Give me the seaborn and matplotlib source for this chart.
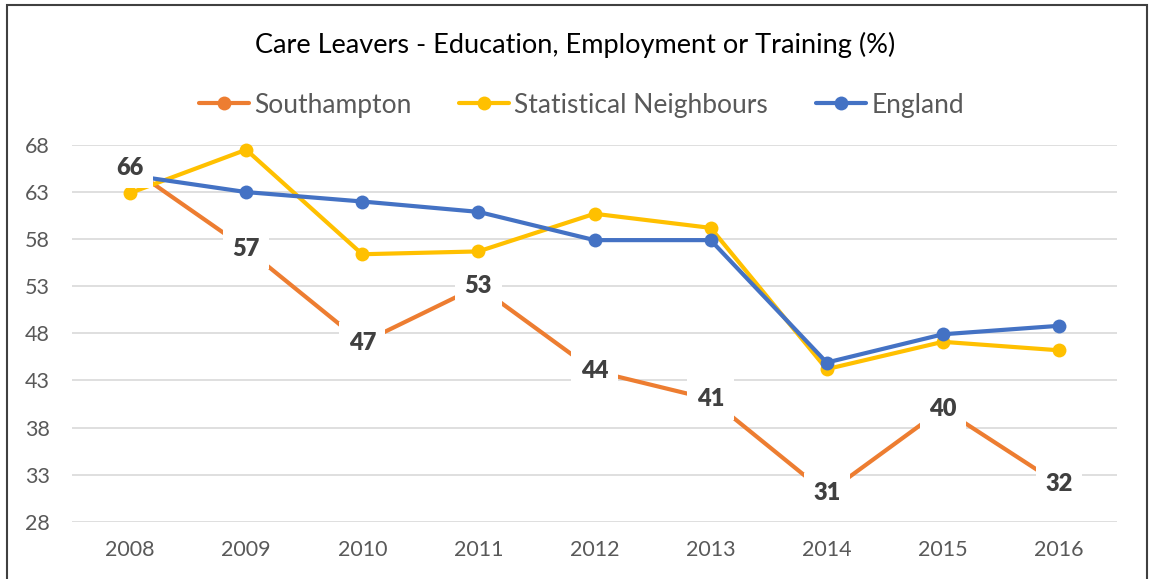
import matplotlib
matplotlib.use("Agg")
import matplotlib.pyplot as plt
import seaborn as sns
import pandas as pd
from matplotlib.patches import Rectangle
from matplotlib.lines import Line2D

years = ["2008", "2009", "2010", "2011", "2012", "2013", "2014", "2015", "2016"]
southampton = [65.6, 57, 47, 53, 44, 41, 31, 40, 32]
stat_neighbours = [62.9, 67.5, 56.4, 56.7, 60.7, 59.2, 44.2, 47.1, 46.2]
england = [64.8, 63.0, 62.0, 60.9, 57.9, 57.9, 44.9, 47.9, 48.8]
series_names = ["Southampton", "Statistical Neighbours", "England"]
colors = ["#ED7D31", "#FFC000", "#4472C4"]
yticks = [28, 33, 38, 43, 48, 53, 58, 63, 68]
title = "Care Leavers - Education, Employment or Training (%)"

sns.set_style("white")
plt.rcParams["font.family"] = ["Lato", "DejaVu Sans"]

W, H = 1151, 579
fig = plt.figure(figsize=(W / 100, H / 100), dpi=100)
ax = fig.add_axes([72 / W, 1 - 521.7 / H, (1117 - 72) / W, (521.7 - 145) / H])

x = list(range(len(years)))
df = pd.DataFrame({
    "x": x * 3,
    "value": southampton + stat_neighbours + england,
    "series": [s for s in series_names for _ in years],
})

LW, MS = 3.0, 10

for name, col in zip(series_names, colors):
    sub = df[df["series"] == name]
    sns.lineplot(data=sub, x="x", y="value", ax=ax, color=col, linewidth=LW,
                 marker="o", markersize=MS, markeredgewidth=0, clip_on=False,
                 zorder=3, legend=False)

# data labels for Southampton
for xi, v in zip(x, southampton):
    ax.text(xi, v, "{:.0f}".format(v), ha="center", va="center", fontsize=17,
            fontweight="heavy", color="#404040", zorder=10,
            bbox=dict(boxstyle="square,pad=0.4", fc="white", ec="none"))

ax.set_xlim(-0.5, len(years) - 0.5)
ax.set_ylim(28, 68)
ax.set_yticks(yticks)
ax.set_xticks(x)
ax.set_xticklabels(years)
ax.set_xlabel("")
ax.set_ylabel("")
ax.grid(axis="y", color="#D9D9D9", linewidth=1.2, zorder=0)
ax.grid(axis="x", visible=False)
for s in ax.spines.values():
    s.set_visible(False)
ax.tick_params(axis="both", length=0, labelsize=15.5, labelcolor="#595959")
ax.tick_params(axis="y", pad=16)
ax.tick_params(axis="x", pad=13)
ax.set_axisbelow(True)

fig.text(0.5, 1 - 45 / H, title, ha="center", va="center", fontsize=19.5, color="#000000")

handles = [Line2D([0], [0], color=c, linewidth=LW, marker="o", markersize=MS,
                  markeredgewidth=0) for c in colors]
fig.legend(handles, series_names, loc="center", bbox_to_anchor=(0.505, 1 - 105 / H),
           ncol=3, frameon=False, fontsize=19, labelcolor="#595959",
           handlelength=1.9, handletextpad=0.2, columnspacing=1.8)

fig.patches.append(Rectangle((7 / W, -0.05), (1147 - 7) / W, 1.05 - 5 / H,
                             transform=fig.transFigure, fill=False,
                             edgecolor="#404040", linewidth=1.5))

fig.savefig("out.png", dpi=100, facecolor="white")
